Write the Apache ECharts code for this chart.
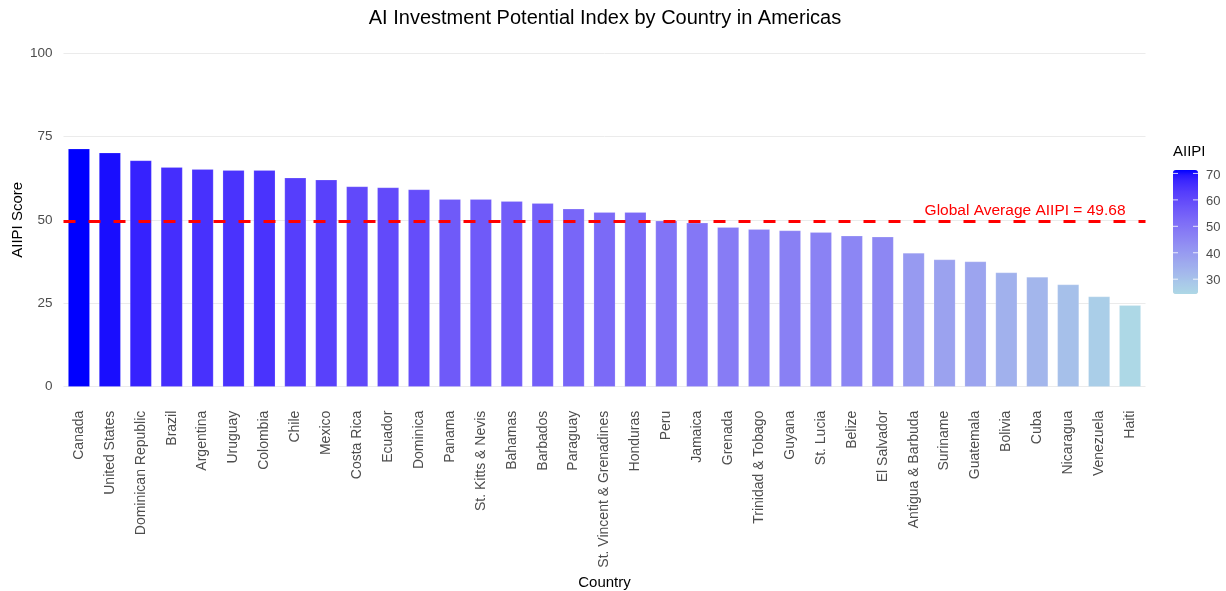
<!DOCTYPE html>
<html>
<head>
<meta charset="utf-8">
<script src="https://cdn.jsdelivr.net/npm/echarts@6/dist/echarts.min.js"></script>
<style>
  html, body { margin: 0; padding: 0; background: #fff; }
  #chart { width: 1226px; height: 591px; }
</style>
</head>
<body>
<div id="chart"></div>
<script>
const countries = ["Canada","United States","Dominican Republic","Brazil","Argentina","Uruguay","Colombia","Chile","Mexico","Costa Rica","Ecuador","Dominica","Panama","St. Kitts & Nevis","Bahamas","Barbados","Paraguay","St. Vincent & Grenadines","Honduras","Peru","Jamaica","Grenada","Trinidad & Tobago","Guyana","St. Lucia","Belize","El Salvador","Antigua & Barbuda","Suriname","Guatemala","Bolivia","Cuba","Nicaragua","Venezuela","Haiti"];
const scores = [71.3,70.1,67.8,65.8,65.2,64.9,64.9,62.6,62.0,60.0,59.7,59.1,56.2,56.2,55.6,55.0,53.3,52.3,52.3,49.7,49.1,47.8,47.2,46.8,46.3,45.2,44.9,40.1,38.1,37.5,34.2,32.9,30.6,27.0,24.4];
const yTicks = [0,25,50,75,100];
const legendTicks = [30,40,50,60,70];
const globalAvg = 49.68;
const lowColor = "#ADD8E6", highColor = "#0000FF";

// --- CIELAB interpolation (like ggplot2's gradient palette) ---
function hexToRgb(h){ h=h.replace('#',''); return [0,2,4].map(i=>parseInt(h.substr(i,2),16)/255); }
function lin(c){ return c<=0.04045? c/12.92 : Math.pow((c+0.055)/1.055,2.4); }
function delin(c){ return c<=0.0031308? 12.92*c : 1.055*Math.pow(c,1/2.4)-0.055; }
const Wn=[0.95047,1,1.08883];
function f(t){ return t>0.008856? Math.cbrt(t) : 7.787*t+16/116; }
function finv(t){ return t*t*t>0.008856? t*t*t : (t-16/116)/7.787; }
function toLab(hex){
  const [r,g,b]=hexToRgb(hex).map(lin);
  const X=(0.4124*r+0.3576*g+0.1805*b)/Wn[0], Y=(0.2126*r+0.7152*g+0.0722*b)/Wn[1], Z=(0.0193*r+0.1192*g+0.9505*b)/Wn[2];
  const fx=f(X), fy=f(Y), fz=f(Z);
  return [116*fy-16, 500*(fx-fy), 200*(fy-fz)];
}
function fromLab(L,a,b){
  const fy=(L+16)/116, fx=fy+a/500, fz=fy-b/200;
  const X=finv(fx)*Wn[0], Y=finv(fy)*Wn[1], Z=finv(fz)*Wn[2];
  let r= 3.2406*X-1.5372*Y-0.4986*Z, g=-0.9689*X+1.8758*Y+0.0415*Z, bb=0.0557*X-0.2040*Y+1.0570*Z;
  return '#'+[r,g,bb].map(c=>{ let v=Math.round(Math.min(1,Math.max(0,delin(c)))*255); return v.toString(16).padStart(2,'0'); }).join('');
}
const labLo=toLab(lowColor), labHi=toLab(highColor);
const rampStops=[];
for(let i=0;i<=24;i++){ const t=i/24; rampStops.push(fromLab(labLo[0]+(labHi[0]-labLo[0])*t, labLo[1]+(labHi[1]-labLo[1])*t, labLo[2]+(labHi[2]-labLo[2])*t)); }

const vMin=Math.min(...scores), vMax=Math.max(...scores);
const cbLeft=1173, cbTop=170, cbW=25, cbH=124;
const FONT='"Liberation Sans", Arial, sans-serif';

const legendGraphics=[{type:'text', left:1173, top:144, style:{text:'AIIPI', font:'15px '+FONT, fill:'#000'}}];
legendTicks.forEach(v=>{
  const y=cbTop+(vMax-v)/(vMax-vMin)*cbH;
  legendGraphics.push({type:'text', x:cbLeft+cbW+8, y:y+1.5, style:{text:String(v), font:'13px '+FONT, fill:'#4D4D4D', textVerticalAlign:'middle'}, z:10});
  legendGraphics.push({type:'line', shape:{x1:cbLeft, y1:y, x2:cbLeft+5, y2:y}, style:{stroke:'rgba(255,255,255,0.8)', lineWidth:1}, z:10});
  legendGraphics.push({type:'line', shape:{x1:cbLeft+cbW-5, y1:y, x2:cbLeft+cbW, y2:y}, style:{stroke:'rgba(255,255,255,0.8)', lineWidth:1}, z:10});
});

const chart=echarts.init(document.getElementById('chart'));
chart.setOption({
  backgroundColor:'#fff',
  animation:false,
  textStyle:{fontFamily:FONT},
  title:{text:'AI Investment Potential Index by Country in Americas', left:605, textAlign:'center', top:8, padding:0,
    textStyle:{fontSize:20, fontWeight:'normal', color:'#000', fontFamily:FONT}},
  grid:{left:63.5, right:80.5, top:53, bottom:204.3, containLabel:false, outerBoundsMode:'none'},
  xAxis:{type:'category', data:countries, name:'Country', nameLocation:'middle', nameGap:189, nameMoveOverlap:false,
    nameTextStyle:{fontSize:15, color:'#000', fontFamily:FONT},
    axisLine:{show:false}, axisTick:{show:false},
    axisLabel:{rotate:90, interval:0, margin:24, fontSize:14, color:'#4D4D4D', fontFamily:FONT}},
  yAxis:{type:'value', min:yTicks[0], max:yTicks[yTicks.length-1], interval:yTicks[1]-yTicks[0],
    name:'AIIPI Score', nameLocation:'middle', nameGap:38, nameRotate:90, nameMoveOverlap:false,
    nameTextStyle:{fontSize:15, color:'#000', fontFamily:FONT},
    axisLine:{show:false}, axisTick:{show:false},
    axisLabel:{margin:11, fontSize:13.5, color:'#4D4D4D', fontFamily:FONT},
    splitLine:{lineStyle:{color:'#EBEBEB', width:1}}},
  visualMap:{type:'continuous', min:vMin, max:vMax, seriesIndex:0, dimension:1, orient:'vertical',
    left:cbLeft, top:cbTop, itemWidth:cbW, itemHeight:cbH, padding:0, calculable:false, text:null,
    inRange:{color:rampStops}, textStyle:{color:'transparent'}},
  series:[
    {type:'bar', data:scores, barWidth:'70%', itemStyle:{borderColor:'rgba(255,255,255,0.35)', borderWidth:0.5}},
    {type:'line', data:[], silent:true,
      markLine:{silent:true, symbol:'none', data:[{yAxis:globalAvg}],
        lineStyle:{color:'#FF0000', type:[12,13], width:3},
        label:{show:true, position:'insideEndTop', formatter:'Global Average AIIPI = '+globalAvg.toFixed(2), color:'#FF0000', fontSize:15.5, fontFamily:FONT, distance:[20,2]}}}
  ],
  graphic:legendGraphics
});
</script>
</body>
</html>
